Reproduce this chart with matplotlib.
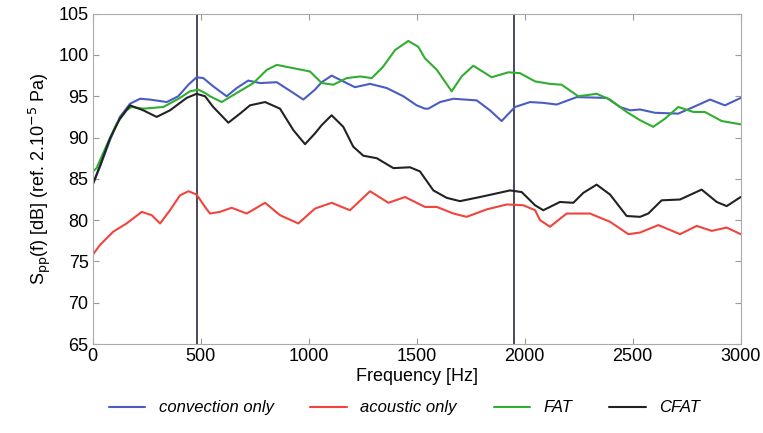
import matplotlib
matplotlib.use("Agg")
import matplotlib.pyplot as plt

plt.rcParams['font.family'] = ['Liberation Sans', 'DejaVu Sans']

# convection only (blue)
conv_f = [0, 34, 80, 126, 173, 219, 265, 343, 396, 443, 481, 512, 558, 620, 667, 720, 775, 852, 929, 975,
          1029, 1060, 1106, 1160, 1214, 1284, 1361, 1438, 1500, 1538, 1554, 1608, 1670, 1778, 1839, 1893, 1955,
          2025, 2086, 2148, 2241, 2380, 2441, 2488, 2534, 2603, 2711, 2781, 2858, 2927, 3000]
conv_db = [84.3, 86.5, 89.7, 92.5, 94.1, 94.7, 94.6, 94.3, 95.0, 96.4, 97.3, 97.2, 96.2, 95.0, 96.0, 96.9, 96.6, 96.7, 95.4, 94.6,
           95.8, 96.7, 97.5, 96.8, 96.1, 96.5, 96.0, 95.0, 93.9, 93.5, 93.5, 94.3, 94.7, 94.5, 93.3, 92.0, 93.7,
           94.3, 94.2, 94.0, 94.9, 94.8, 93.7, 93.3, 93.4, 93.0, 92.9, 93.7, 94.6, 93.9, 94.8]

# acoustic only (red)
ac_f = [0, 34, 95, 157, 227, 273, 312, 358, 404, 443, 481, 520, 543, 589, 643, 713, 798, 867, 952,
        1029, 1106, 1191, 1284, 1369, 1446, 1538, 1593, 1670, 1731, 1824, 1917, 1994, 2048, 2071, 2117,
        2194, 2302, 2395, 2480, 2534, 2619, 2719, 2796, 2866, 2935, 3000]
ac_db = [75.8, 77.0, 78.6, 79.6, 81.0, 80.6, 79.6, 81.2, 83.0, 83.5, 83.1, 81.6, 80.8, 81.0, 81.5, 80.8, 82.1, 80.6, 79.6,
         81.4, 82.1, 81.2, 83.5, 82.1, 82.8, 81.6, 81.6, 80.8, 80.4, 81.3, 81.9, 81.8, 81.2, 80.0, 79.2,
         80.8, 80.8, 79.8, 78.3, 78.5, 79.4, 78.3, 79.3, 78.7, 79.1, 78.3]

# FAT (green)
fat_f = [0, 1, 18, 65, 111, 157, 180, 234, 327, 404, 450, 489, 520, 543, 597, 667, 744, 806, 852, 929, 1006,
         1060, 1114, 1176, 1238, 1292, 1345, 1400, 1461, 1507, 1538, 1593, 1662, 1708, 1762, 1847, 1924, 1978,
         2048, 2117, 2171, 2248, 2333, 2395, 2472, 2534, 2595, 2650, 2711, 2781, 2834, 2912, 3000]
fat_db = [83.0, 85.9, 86.3, 89.1, 91.7, 93.3, 93.7, 93.5, 93.7, 94.8, 95.6, 95.8, 95.4, 95.0, 94.3, 95.4, 96.6, 98.2, 98.8, 98.4, 98.0,
          96.6, 96.4, 97.2, 97.4, 97.2, 98.6, 100.6, 101.7, 101.0, 99.6, 98.2, 95.6, 97.4, 98.7, 97.3, 97.9, 97.8,
          96.8, 96.5, 96.4, 95.0, 95.3, 94.6, 93.1, 92.1, 91.3, 92.3, 93.7, 93.1, 93.1, 92.0, 91.6]

# CFAT (black)
cfat_f = [0, 34, 80, 126, 173, 234, 296, 358, 435, 481, 520, 558, 628, 682, 728, 798, 867, 929, 983,
          1029, 1060, 1106, 1160, 1206, 1253, 1315, 1392, 1469, 1515, 1577, 1639, 1700, 1793, 1863, 1932, 1986,
          2048, 2086, 2163, 2225, 2271, 2333, 2395, 2472, 2534, 2572, 2634, 2719, 2819, 2889, 2935, 3000]
cfat_db = [84.3, 86.6, 89.9, 92.3, 93.9, 93.3, 92.5, 93.3, 94.8, 95.3, 95.0, 93.7, 91.8, 92.9, 93.9, 94.3, 93.5, 90.9, 89.2,
           90.5, 91.5, 92.7, 91.3, 88.9, 87.8, 87.5, 86.3, 86.4, 85.9, 83.6, 82.7, 82.3, 82.8, 83.2, 83.6, 83.4,
           81.8, 81.2, 82.2, 82.1, 83.3, 84.3, 83.1, 80.5, 80.4, 80.8, 82.4, 82.5, 83.7, 82.2, 81.7, 82.8]

vlines = [485, 1952]
x_ticks = [0, 500, 1000, 1500, 2000, 2500, 3000]
y_ticks = [65, 70, 75, 80, 85, 90, 95, 100, 105]

fig = plt.figure(figsize=(7.63, 4.33), dpi=100)
ax = fig.add_axes([0.1215, 0.2055, 0.8493, 0.7629])

for v in vlines:
    ax.axvline(v, color='#3a3a4a', lw=1.3, zorder=1)

kw = dict(lw=1.5, solid_joinstyle='round', solid_capstyle='round')
l1, = ax.plot(conv_f, conv_db, color='#4a5cc4', label='convection only', **kw)
l2, = ax.plot(ac_f, ac_db, color='#f0453c', label='acoustic only', **kw)
l3, = ax.plot(fat_f, fat_db, color='#2fae2f', label='FAT', **kw)
l4, = ax.plot(cfat_f, cfat_db, color='#222222', label='CFAT', **kw)

ax.set_xlim(0, 3000)
ax.set_ylim(65, 105)
ax.set_xticks(x_ticks)
ax.set_yticks(y_ticks)
ax.tick_params(direction='in', top=True, right=True, labelsize=13, color='#999999', length=4, pad=3)
for s in ax.spines.values():
    s.set_color('#aaaaaa')
ax.set_xlabel('Frequency [Hz]', fontsize=13, labelpad=2)
ax.set_ylabel(r'S$_{\mathrm{pp}}$(f) [dB] (ref. 2.10$^{-5}$ Pa)', fontsize=13, labelpad=4)

fig.legend(handles=[l1, l2, l3, l4], loc='center', bbox_to_anchor=(0.53, 0.058), ncol=4,
           frameon=False, prop={'style': 'italic', 'size': 12}, handlelength=2.2, columnspacing=2.2,
           handletextpad=0.8)

fig.savefig('out.png', dpi=100)
